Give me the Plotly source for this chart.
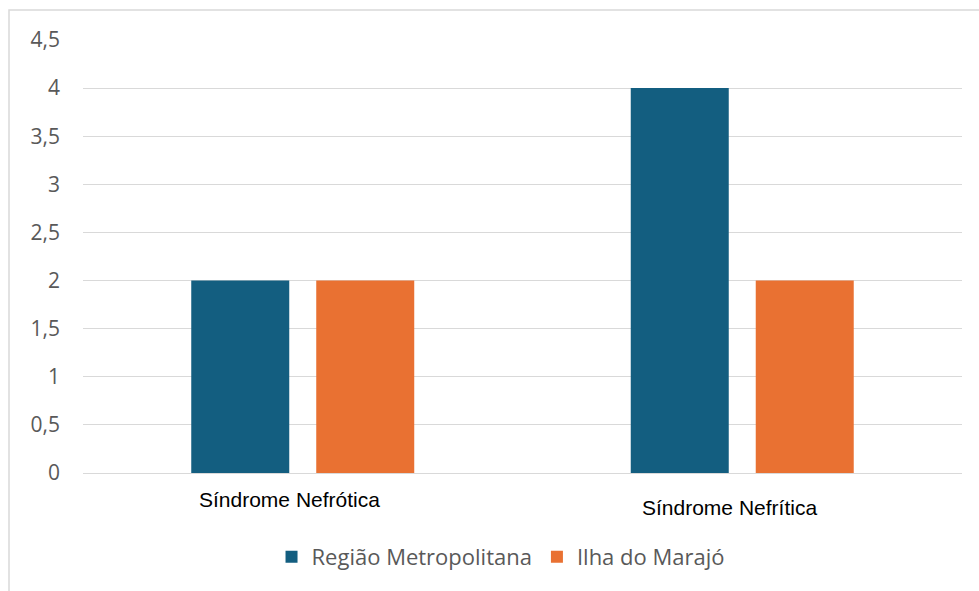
import plotly.graph_objects as go

categories = ["Síndrome Nefrótica", "Síndrome Nefrítica"]
series_names = ["Região Metropolitana", "Ilha do Marajó"]
regiao_metropolitana = [2, 4]
ilha_do_marajo = [2, 2]
y_ticks = [0, 0.5, 1, 1.5, 2, 2.5, 3, 3.5, 4, 4.5]

colors = ["#135E80", "#E97132"]
W = 879.0
bar_w = 98 / 439.5

fig = go.Figure()
fig.add_trace(go.Bar(
    x=[0, 1], y=regiao_metropolitana, name=series_names[0],
    marker=dict(color=colors[0], line=dict(width=0)),
    width=bar_w, offset=-0.2537,
))
fig.add_trace(go.Bar(
    x=[0, 1], y=ilha_do_marajo, name=series_names[1],
    marker=dict(color=colors[1], line=dict(width=0)),
    width=bar_w, offset=0.0307,
))

# category labels
fig.add_annotation(x=-0.03, y=-0.093, xref="x", yref="paper", text=categories[0],
                   showarrow=False, font=dict(family="Liberation Sans, Arial", size=21, color="#000000"))
fig.add_annotation(x=-0.03 + 1, y=-0.111, xref="x", yref="paper", text=categories[1],
                   showarrow=False, font=dict(family="Liberation Sans, Arial", size=21, color="#000000"))

# outer border
fig.add_shape(type="rect", xref="paper", yref="paper",
              x0=(9 - 83) / W, x1=1.2, y0=-0.6, y1=(473 - 10) / 433.0,
              line=dict(color="#D9D9D9", width=1.5), fillcolor="rgba(0,0,0,0)", layer="below")

fig.update_layout(
    width=979, height=591,
    margin=dict(l=83, r=17, t=40, b=118),
    paper_bgcolor="white", plot_bgcolor="white",
    separators=",.",
    barmode="overlay",
    showlegend=True,
    legend=dict(orientation="h", x=0.475, xanchor="center", y=-0.194, yanchor="middle",
                font=dict(family="Open Sans", size=22, color="#595959"),
                itemwidth=30, tracegroupgap=0, itemsizing="constant"),
    xaxis=dict(range=[-0.5, 1.5], showticklabels=False, showgrid=False, zeroline=False,
               showline=False, fixedrange=True),
    yaxis=dict(range=[0, 4.5], tickvals=y_ticks, showgrid=True, gridcolor="#D9D9D9", gridwidth=1.3,
               zeroline=True, zerolinecolor="#D9D9D9", zerolinewidth=1.3, showline=False,
               ticklabelstandoff=22,
               tickfont=dict(family="Open Sans", size=21, color="#595959")),
    font=dict(family="Open Sans"),
)

fig.write_html("out.html", post_script="document.body.style.margin='0';",
               config={"displayModeBar": False})
